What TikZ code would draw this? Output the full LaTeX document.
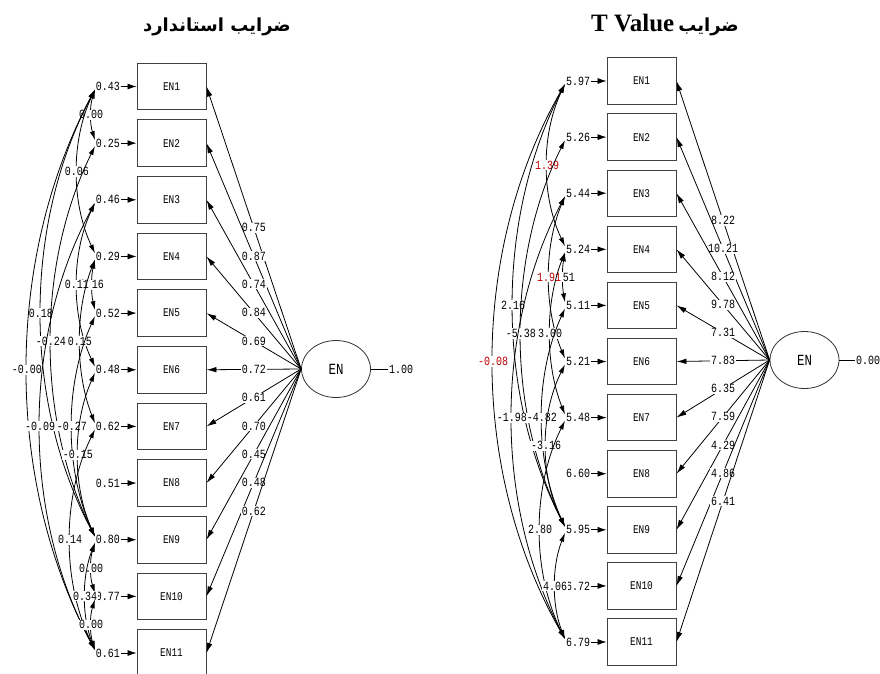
\documentclass[tikz,border=0pt]{standalone}
\usepackage{fontspec}
\usetikzlibrary{arrows.meta,shapes.geometric}
\newfontfamily\lisfont[FakeStretch=0.8]{Liberation Mono}
\newfontfamily\arabicfont[Script=Arabic]{DejaVu Sans}
\newfontfamily\titlefont{Liberation Serif}
\TeXXeTstate=1
\begin{document}
\begin{tikzpicture}[x=1pt,y=-1pt,
  obsbox/.style={draw=black!75, line width=0.9pt, minimum width=69pt, minimum height=46.5pt, inner sep=0pt, font=\lisfont\fontsize{11.8}{12}\selectfont},
  latent/.style={draw=black!80, line width=0.8pt, ellipse, minimum width=69pt, minimum height=57pt, inner sep=0pt, font=\lisfont\fontsize{15.5}{16}\selectfont},
  num/.style={font=\lisfont\fontsize{12.5}{12.5}\selectfont, inner sep=0.8pt, fill=white},
  errnum/.style={num, anchor=east},
  ldarrow/.style={line width=0.8pt, -{Latex[length=10pt,width=5.5pt]}},
  errarrow/.style={line width=0.8pt, -{Latex[length=9pt,width=6pt]}},
  covarrow/.style={line width=0.8pt, {Latex[length=9pt,width=5pt]}-{Latex[length=9pt,width=5pt]}},
  plainline/.style={line width=0.8pt}
]
\fill[white] (0,0) rectangle (880,673);
\useasboundingbox (0,0) rectangle (880,673);

% titles
\node[font=\arabicfont\bfseries\fontsize{18}{22}\selectfont] (tleft) at (217,27) {\beginR ضرایب استاندارد\endR};
\node[inner sep=0pt] (tright) at (665,25) {{\titlefont\bfseries\fontsize{25}{28}\selectfont T Value}\hspace{4pt}{\arabicfont\bfseries\fontsize{18}{22}\selectfont\beginR ضرایب\endR}};

% ---------------- left diagram ----------------
\node[latent] (LEN) at (336,369) {EN};
\node[num, anchor=west] (Lv) at (388,369) {1.00};
\draw[plainline] (LEN.east) -- (Lv.west);
\foreach \i/\ev/\lv in {1/0.43/0.75,2/0.25/0.87,3/0.46/0.74,4/0.29/0.84,5/0.52/0.69,6/0.48/0.72,7/0.62/0.61,8/0.51/0.70,9/0.80/0.45,10/0.77/0.48,11/0.61/0.62} {
  \node[obsbox] (L\i) at (171.5,{86.5+(\i-1)*56.65}) {EN\i};
  \node[errnum] (Le\i) at (121,{86.5+(\i-1)*56.65}) {\ev};
  \draw[errarrow] (Le\i.east) -- (L\i.west);
  \draw[ldarrow] (LEN.west) -- node[num]{\lv} (L\i.east);
}
\foreach \a/\b/\val/\dd/\cc in {1/2/0.00/-5.3/black,1/4/0.06/-24/black,4/5/0.16/-4/black,3/6/0.11/-24/black,1/9/0.18/-72/black,2/9/-0.24/-58.7/black,4/7/0.15/-20/black,1/11/-0.00/-90.7/black,3/11/-0.09/-73.3/black,5/9/-0.27/-30.7/black,6/9/-0.15/-22.7/black,7/11/0.14/-33.3/black,9/10/0.00/-5.3/black,9/11/0.34/-13.3/black,10/11/0.00/-5.3/black} {
  \pgfmathsetmacro\kk{0.3*(\b-\a)*56.65}
  \draw[covarrow] ([yshift=-3pt]Le\a.west) .. controls +(\dd,\kk) and +(\dd,-\kk) .. ([yshift=3pt]Le\b.west) node[num,pos=0.5,text=\cc]{\val};
}

% ---------------- right diagram ----------------
\node[latent] (REN) at (804.5,360) {EN};
\node[num, anchor=west] (Rv) at (855,360) {0.00};
\draw[plainline] (REN.east) -- (Rv.west);
\foreach \i/\ev/\lv in {1/5.97/8.22,2/5.26/10.21,3/5.44/8.12,4/5.24/9.78,5/5.11/7.31,6/5.21/7.83,7/5.48/6.35,8/6.60/7.59,9/5.95/4.29,10/6.72/4.86,11/6.79/6.41} {
  \node[obsbox] (R\i) at (641.5,{81+(\i-1)*56.1}) {EN\i};
  \node[errnum] (Re\i) at (591,{81+(\i-1)*56.1}) {\ev};
  \draw[errarrow] (Re\i.east) -- (R\i.west);
  \draw[ldarrow] (REN.west) -- node[num]{\lv} (R\i.east);
}
\foreach \a/\b/\val/\dd/\cc in {1/4/1.39/-24/red!75!black,4/5/2.51/-3/black,3/6/1.91/-21.3/red!75!black,1/9/2.16/-69.3/black,2/9/-5.38/-58.7/black,4/7/3.00/-20/black,1/11/-0.08/-96/red!75!black,3/11/-1.98/-70.7/black,5/9/-4.82/-30.7/black,6/9/-3.16/-25.3/black,7/11/2.80/-33.3/black,9/11/4.06/-13.3/black} {
  \pgfmathsetmacro\kk{0.3*(\b-\a)*56.1}
  \draw[covarrow] ([yshift=-3pt]Re\a.west) .. controls +(\dd,\kk) and +(\dd,-\kk) .. ([yshift=3pt]Re\b.west) node[num,pos=0.5,text=\cc]{\val};
}
\end{tikzpicture}
\end{document}
